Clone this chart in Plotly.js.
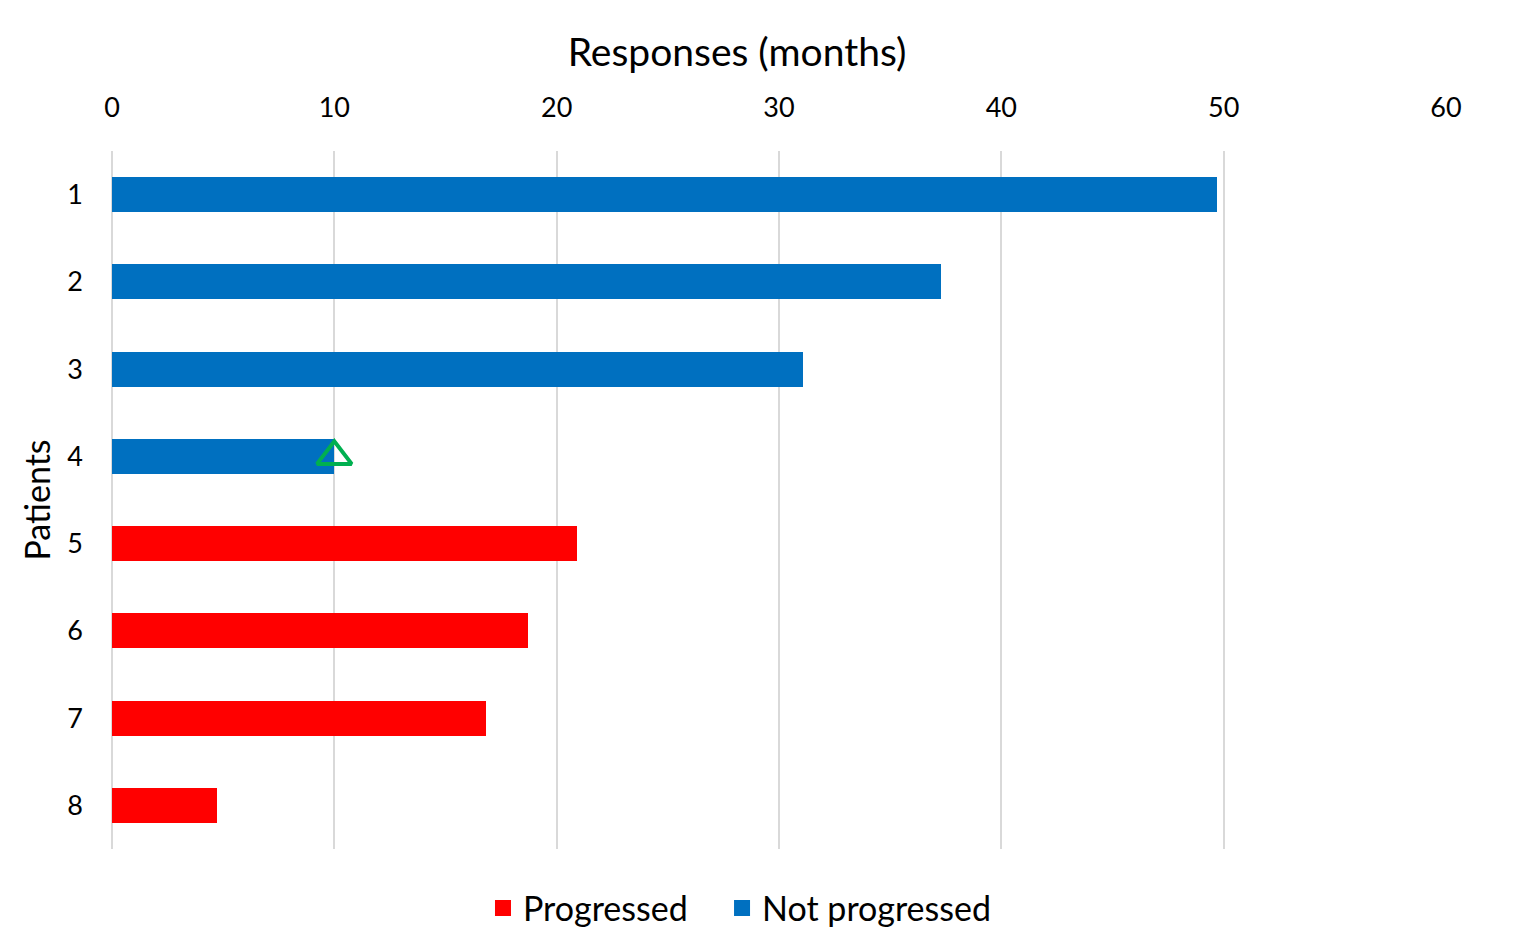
<!DOCTYPE html>
<html>
<head>
<meta charset="utf-8">
<script src="https://cdn.plot.ly/plotly-3.0.1.min.js"></script>
<style>html,body{margin:0;padding:0;background:#fff;}#chart{width:1515px;height:942px;}</style>
</head>
<body>
<div id="chart"></div>
<script>
const patients = ['1','2','3','4','5','6','7','8'];
const notProgressedPatients = ['1','2','3','4'];
const notProgressedMonths = [49.7, 37.3, 31.1, 10.0];
const progressedPatients = ['5','6','7','8'];
const progressedMonths = [20.9, 18.7, 16.8, 4.7];
const markerPatients = ['4'];
const markerMonths = [10];
const xTicks = [0, 10, 20, 30, 40, 50, 60];
const seriesNames = ['Progressed', 'Not progressed'];
const seriesColors = ['#FF0000', '#0070C0'];

const FONT = 'Lato, "Open Sans", sans-serif';

const traces = [
  {
    type: 'bar', orientation: 'h', name: seriesNames[0], showlegend: false,
    x: progressedMonths, y: progressedPatients,
    marker: {color: seriesColors[0]}
  },
  {
    type: 'bar', orientation: 'h', name: seriesNames[1], showlegend: false,
    x: notProgressedMonths, y: notProgressedPatients,
    marker: {color: seriesColors[1]}
  },
  {
    type: 'scatter', mode: 'markers', showlegend: false,
    x: markerMonths, y: markerPatients,
    marker: {symbol: 'triangle-up-open', size: 30, color: '#00B050', line: {width: 4, color: '#00B050'}}
  },
  // legend entries (no data drawn)
  {
    type: 'scatter', mode: 'markers', name: seriesNames[0], x: [null], y: [null], legend: 'legend',
    marker: {symbol: 'square', size: 16, color: seriesColors[0]}
  },
  {
    type: 'scatter', mode: 'markers', name: seriesNames[1], x: [null], y: [null], legend: 'legend2',
    marker: {symbol: 'square', size: 16, color: seriesColors[1]}
  }
];

const legendFont = {size: 34, family: FONT, color: '#000'};

const layout = {
  width: 1515, height: 942,
  paper_bgcolor: '#fff', plot_bgcolor: '#fff',
  margin: {l: 112, r: 69, t: 151, b: 93, autoexpand: false},
  barmode: 'stack', bargap: 0.6,
  font: {family: FONT, color: '#000'},
  title: {
    text: 'Responses (months)', font: {size: 39, family: FONT, color: '#000'},
    x: 737 / 1515, xanchor: 'center', xref: 'container',
    y: 1 - 52 / 942, yanchor: 'middle', yref: 'container'
  },
  xaxis: {
    side: 'top', range: [0, 60], tickvals: xTicks, ticktext: xTicks.map(String),
    showgrid: true, gridcolor: '#D9D9D9', gridwidth: 2,
    zeroline: true, zerolinecolor: '#D9D9D9', zerolinewidth: 2,
    showline: false, ticks: '', ticklabelstandoff: 28,
    tickfont: {size: 27, family: FONT, color: '#000'}
  },
  yaxis: {
    type: 'category', categoryorder: 'array', categoryarray: patients,
    autorange: 'reversed', showgrid: false, zeroline: false, showline: false,
    ticks: '', ticklabelstandoff: 28,
    tickfont: {size: 27, family: FONT, color: '#000'},
    title: {text: 'Patients', font: {size: 34, family: FONT, color: '#000'}, standoff: 6}
  },
  legend: {
    orientation: 'h', x: 0.2781, xanchor: 'left', y: -0.085, yanchor: 'middle',
    font: legendFont
  },
  legend2: {
    orientation: 'h', x: 0.4573, xanchor: 'left', y: -0.085, yanchor: 'middle',
    font: legendFont
  },
  showlegend: true
};

Plotly.newPlot('chart', traces, layout, {displayModeBar: false, staticPlot: true});
</script>
</body>
</html>
